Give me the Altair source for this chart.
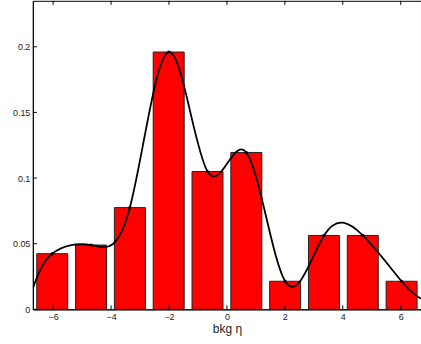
import altair as alt
import pandas as pd

# bin centres and normalised counts
centers = [-6.03, -4.69, -3.35, -2.01, -0.67, 0.67, 2.01, 3.35, 4.69, 6.03]
heights = [0.0424, 0.049, 0.0775, 0.196, 0.105, 0.1195, 0.0214, 0.0563, 0.0563, 0.0214]
half_width = 0.535

# smooth curve points (bin tops plus end values)
curve_x = [-6.7] + centers + [6.7]
curve_y = [0.016] + heights + [0.008]

x_ticks = [-6, -4, -2, 0, 2, 4, 6]
y_ticks = [0, 0.05, 0.1, 0.15, 0.2]

XDOM = [-6.7, 6.7]
YDOM = [0, 0.235]

bars_df = pd.DataFrame({
    "c": centers,
    "lo": [c - half_width for c in centers],
    "hi": [c + half_width for c in centers],
    "h": heights,
})
curve_df = pd.DataFrame({"x": curve_x, "y": curve_y})
pts_df = pd.DataFrame({"x": centers, "y": heights})
xt_df = pd.DataFrame({"v": x_ticks})
yt_df = pd.DataFrame({"v": y_ticks})

xs = alt.Scale(domain=XDOM, nice=False, zero=False)
ys = alt.Scale(domain=YDOM, nice=False, zero=False)

font = "Liberation Sans"

bars = alt.Chart(bars_df).mark_bar(
    color="#ff0000", stroke="#222222", strokeWidth=1
).encode(
    x=alt.X("lo:Q", scale=xs, title="bkg η",
            axis=alt.Axis(values=x_ticks, tickSize=0, labelPadding=3, grid=False,
                          domainColor="black", labelColor="#222", labelFontSize=9,
                          labelFont=font, titleFont=font, titleFontSize=12,
                          titleFontWeight="normal", titleColor="#222", titlePadding=2)),
    x2="hi:Q",
    y=alt.Y("h:Q", scale=ys, title=None,
            axis=alt.Axis(values=y_ticks, format="~g", tickSize=0, labelPadding=3,
                          grid=False, domainColor="black", labelColor="#222",
                          labelFontSize=9, labelFont=font)),
    y2=alt.datum(0),
)

line = alt.Chart(curve_df).mark_line(
    color="black", strokeWidth=1.8, interpolate="natural", clip=True
).encode(
    x=alt.X("x:Q", scale=xs),
    y=alt.Y("y:Q", scale=ys),
)

pts = alt.Chart(pts_df).mark_circle(color="black", size=10, opacity=1).encode(
    x=alt.X("x:Q", scale=xs),
    y=alt.Y("y:Q", scale=ys),
)

top_ticks = alt.Chart(xt_df).mark_rule(color="black", strokeWidth=1).encode(
    x=alt.X("v:Q", scale=xs), y=alt.value(0), y2=alt.value(4)
)
bot_ticks = alt.Chart(xt_df).mark_rule(color="black", strokeWidth=1).encode(
    x=alt.X("v:Q", scale=xs), y=alt.value(310), y2=alt.value(306)
)
left_ticks = alt.Chart(yt_df).mark_rule(color="black", strokeWidth=1).encode(
    y=alt.Y("v:Q", scale=ys), x=alt.value(0), x2=alt.value(4)
)

chart = alt.layer(bars, bot_ticks, top_ticks, left_ticks, line, pts).properties(
    width=390, height=310,
    padding={"left": 33, "top": 0, "right": 0, "bottom": 34},
    autosize=alt.AutoSizeParams(type="none"),
    background="white",
).configure_view(stroke="black", strokeWidth=1)

chart.save("out.html", embed_options={"renderer": "svg", "actions": False})
